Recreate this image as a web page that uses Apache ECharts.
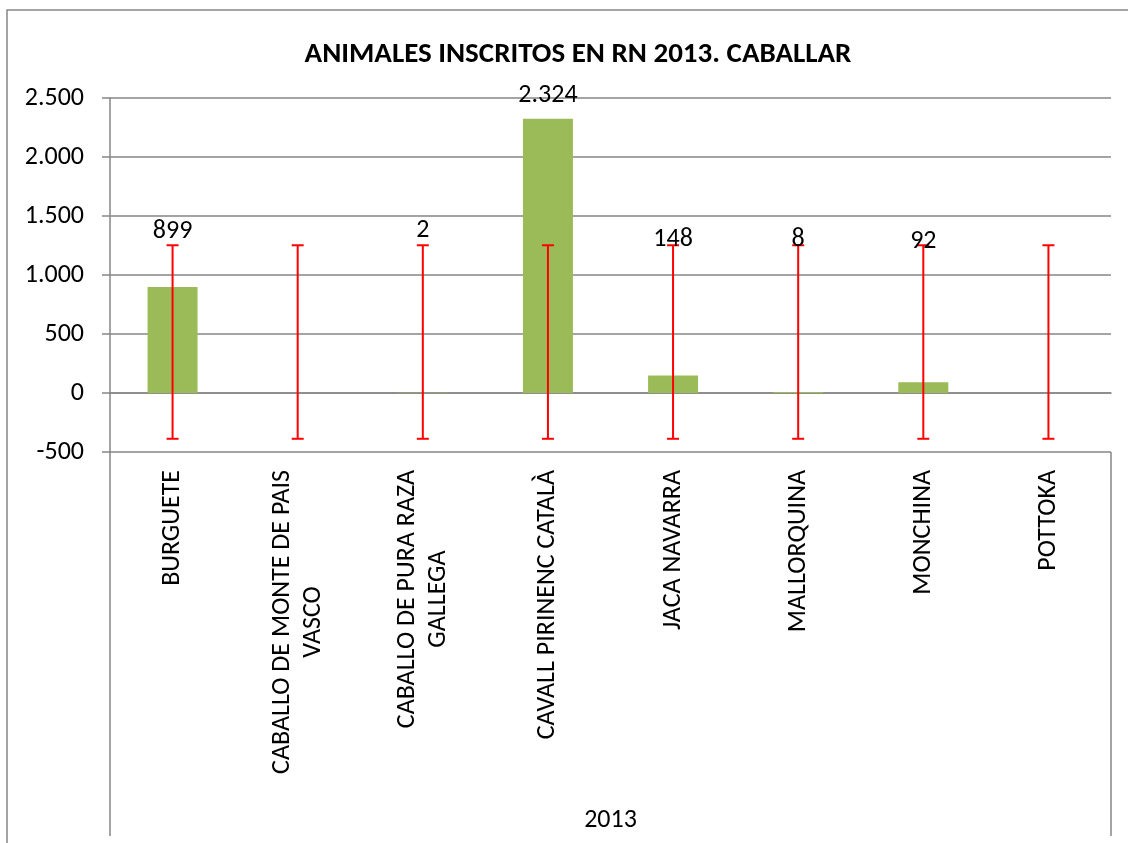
<!DOCTYPE html>
<html>
<head>
<meta charset="utf-8">
<script src="https://cdn.jsdelivr.net/npm/echarts@6/dist/echarts.min.js"></script>
<style>
  html, body { margin: 0; padding: 0; background: #fff; overflow: hidden; }
  #main { width: 1128px; height: 843px; }
</style>
</head>
<body>
<div id="main"></div>
<script>
// datos
var categories = ['BURGUETE', 'CABALLO DE MONTE DE PAIS\nVASCO', 'CABALLO DE PURA RAZA\nGALLEGA',
  'CAVALL PIRINENC CATALÀ', 'JACA NAVARRA', 'MALLORQUINA', 'MONCHINA', 'POTTOKA'];
var values = [899, 0, 2, 2324, 148, 8, 92, 0];
var labelText = ['899', '', '2', '2.324', '148', '8', '92', ''];
var labelY = [1365, null, 1380, 2525, 1297, 1305, 1282, null];
var errLow = [-388, -388, -388, -388, -388, -388, -388, -388];
var errHigh = [1252, 1252, 1252, 1252, 1252, 1252, 1252, 1252];
var yTicks = [-500, 0, 500, 1000, 1500, 2000, 2500];
var groupLabel = '2013';

var FONT = "Carlito, 'Open Sans', sans-serif";
var FS = 26;
var GRAY = '#868686';
var grid = { left: 110, right: 17, top: 98, bottom: 391 };

function fmt(v) {
  var s = String(Math.abs(v)).replace(/\B(?=(\d{3})+(?!\d))/g, '.');
  return (v < 0 ? '-' : '') + s;
}

var chart = echarts.init(document.getElementById('main'));

var errData = categories.map(function (c, i) { return [i, errLow[i], errHigh[i]]; });
var lblData = [];
labelY.forEach(function (y, i) { if (y != null) lblData.push([i, y, labelText[i]]); });

var option = {
  animation: false,
  title: {
    text: 'ANIMALES INSCRITOS EN RN 2013. CABALLAR',
    left: 573, top: 35, textAlign: 'center',
    textStyle: { fontFamily: FONT, fontSize: 29, fontWeight: 'bold', color: '#000' }
  },
  grid: grid,
  xAxis: {
    type: 'category',
    data: categories,
    axisLine: { lineStyle: { color: GRAY, width: 1.5 } },
    axisTick: { show: false },
    axisLabel: {
      interval: 0, rotate: 90, margin: 18, color: '#000',
      fontFamily: FONT, fontSize: FS,
      formatter: function (v) {
        return v.split('\n').map(function (l) { return '{c|' + l + '}'; }).join('\n');
      },
      rich: { c: { align: 'center', fontFamily: FONT, fontSize: FS, color: '#000', lineHeight: 31 } }
    }
  },
  yAxis: {
    type: 'value',
    min: yTicks[0], max: yTicks[yTicks.length - 1], interval: 500,
    axisLine: { show: true, lineStyle: { color: GRAY, width: 1.5 } },
    axisTick: { show: true, inside: false, length: 8, lineStyle: { color: GRAY, width: 1.5 } },
    splitLine: { lineStyle: { color: GRAY, width: 1.5 } },
    axisLabel: { margin: 26, color: '#000', fontFamily: FONT, fontSize: FS, formatter: fmt }
  },
  series: [
    {
      type: 'bar',
      data: values,
      barWidth: 50,
      itemStyle: { color: '#9BBB59' },
      z: 2
    },
    {
      type: 'custom',
      data: errData,
      encode: { x: 0, y: [1, 2] },
      z: 3,
      renderItem: function (params, api) {
        var lo = api.coord([api.value(0), api.value(1)]);
        var hi = api.coord([api.value(0), api.value(2)]);
        var w = 6;
        var st = { stroke: '#FF0000', lineWidth: 2 };
        return {
          type: 'group',
          children: [
            { type: 'line', shape: { x1: lo[0], y1: lo[1], x2: hi[0], y2: hi[1] }, style: st },
            { type: 'line', shape: { x1: lo[0] - w, y1: lo[1], x2: lo[0] + w, y2: lo[1] }, style: st },
            { type: 'line', shape: { x1: hi[0] - w, y1: hi[1], x2: hi[0] + w, y2: hi[1] }, style: st }
          ]
        };
      }
    },
    {
      type: 'custom',
      data: lblData,
      encode: { x: 0, y: 1 },
      z: 4,
      renderItem: function (params, api) {
        var p = api.coord([api.value(0), api.value(1)]);
        return {
          type: 'text',
          x: p[0], y: p[1],
          style: {
            text: lblData[params.dataIndex][2],
            fill: '#000', font: FS + 'px ' + FONT,
            align: 'center', verticalAlign: 'middle'
          }
        };
      }
    }
  ]
};
chart.setOption(option);

// marco exterior (solo arriba e izquierda), separadores del grupo y etiqueta del grupo
var W = chart.getWidth(), H = chart.getHeight();
var gl = grid.left, gr = W - grid.right, gb = H - grid.bottom;
chart.setOption({
  graphic: [
    { type: 'polyline', shape: { points: [[7, H + 20], [7, 10], [W + 20, 10]] },
      style: { fill: 'none', stroke: GRAY, lineWidth: 1.5 }, silent: true },
    { type: 'line', shape: { x1: gl, y1: gb, x2: gl, y2: H - 7 }, style: { stroke: GRAY, lineWidth: 1.5 } },
    { type: 'line', shape: { x1: gr, y1: gb, x2: gr, y2: H - 7 }, style: { stroke: GRAY, lineWidth: 1.5 } },
    { type: 'text', x: (gl + gr) / 2, y: H - 23,
      style: { text: groupLabel, fill: '#000', font: FS + 'px ' + FONT, align: 'center', verticalAlign: 'middle' } }
  ]
});
</script>
</body>
</html>
